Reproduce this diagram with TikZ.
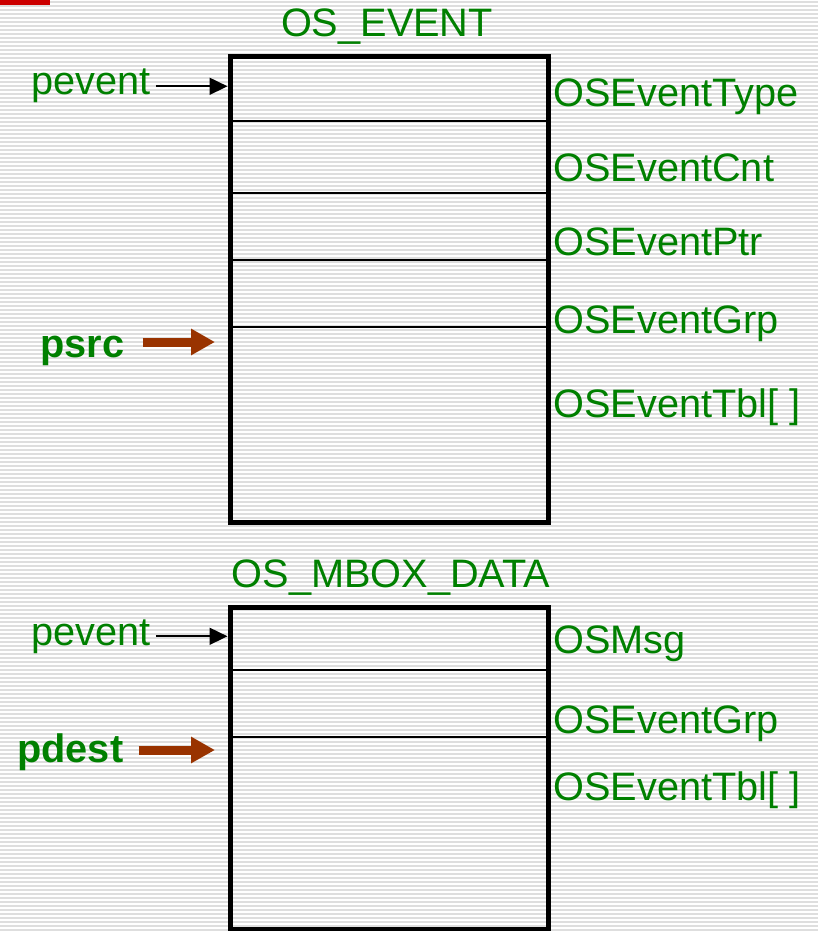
\documentclass[tikz,border=0pt]{standalone}
\usepackage{fontspec}
\setmainfont{Liberation Sans}
\usetikzlibrary{arrows.meta, positioning}
\definecolor{fieldgreen}{HTML}{008000}
\definecolor{ptrbrown}{HTML}{993300}
\definecolor{stripe}{HTML}{DEDEDE}
\definecolor{markred}{HTML}{CC0000}

\begin{document}
\begin{tikzpicture}[x=0.5pt, y=-0.5pt,
  lbl/.style={text=fieldgreen, font=\fontsize{19.85}{22}\selectfont, inner sep=0pt, anchor=base west},
  ttl/.style={lbl, anchor=base},
  ptr/.style={lbl, font=\fontsize{19.85}{22}\selectfont\bfseries},
  rec/.style={draw, line width=2.5pt, minimum width=159pt, inner sep=0pt},
  row/.style={line width=1pt},
  ref/.style={-{Triangle[length=9pt, width=8.5pt]}, line width=0.9pt},
  move/.style={-{Triangle[length=12pt, width=12.5pt]}, line width=4.5pt, draw=ptrbrown}
]
  \useasboundingbox (0,0) rectangle (818,931);
  \foreach \y in {2,6,...,930}
    \draw[stripe, line width=0.6pt] (0,\y) -- (818,\y);
  \fill[markred] (0,0) rectangle (50,5);

  % OS_EVENT
  \node[ttl] (evtitle) at (387,37) {OS\_EVENT};
  \node[rec, minimum height=232.5pt] (ev) at (389,289.5) {};
  \foreach \y in {121,193,260,327}
    \draw[row] (230,\y) -- (548,\y);
  \foreach \name/\y in {OSEventType/107, OSEventCnt/181, OSEventPtr/255,
                        OSEventGrp/333, {OSEventTbl[ ]}/417}
    \node[lbl] (ev\y) at (553,\y) {\name};

  \node[lbl] (pe1) at (31,95) {pevent};
  \draw[ref] (pe1.east) ++(2.5pt,0) -- (pe1.east -| ev.west);
  \node[ptr] (ps) at (40,357) {psrc};
  \coordinate (srctip) at (215,342);
  \draw[move] ([xshift=9pt]ps.east |- srctip) -- (srctip);

  % OS_MBOX_DATA
  \node[ttl] (mbtitle) at (391,587) {OS\_MBOX\_DATA};
  \node[rec, minimum height=161pt] (mb) at (389,768) {};
  \foreach \y in {670,737}
    \draw[row] (230,\y) -- (548,\y);
  \foreach \name/\y in {OSMsg/653, OSEventGrp/733, {OSEventTbl[ ]}/800}
    \node[lbl] (mb\y) at (553,\y) {\name};

  \node[lbl] (pe2) at (31,645) {pevent};
  \draw[ref] (pe2.east) ++(2.5pt,0) -- (pe2.east -| mb.west);
  \node[ptr] (pd) at (17,762) {pdest};
  \coordinate (dsttip) at (215,750);
  \draw[move] ([xshift=7.5pt]pd.east |- dsttip) -- (dsttip);
\end{tikzpicture}
\end{document}
